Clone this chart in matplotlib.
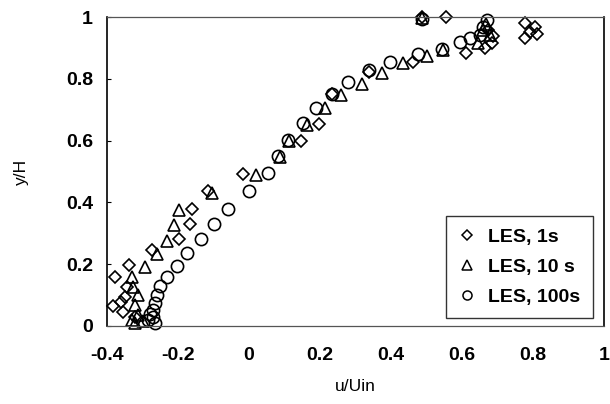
import matplotlib
matplotlib.use("Agg")
import matplotlib.pyplot as plt
from matplotlib.lines import Line2D

plt.rcParams['font.family'] = ['Liberation Sans', 'DejaVu Sans']

# LES, 1s (diamonds)
u_1s = [-0.377, -0.338, -0.344, -0.349, -0.382, -0.360, -0.355, -0.320, -0.274, -0.196,
        -0.166, -0.161, -0.116, -0.016, 0.146, 0.197, 0.233, 0.339, 0.461, 0.486,
        0.554, 0.611, 0.665, 0.685, 0.687, 0.673, 0.777, 0.806, 0.792, 0.777, 0.811]
y_1s = [0.159, 0.197, 0.127, 0.095, 0.065, 0.079, 0.046, 0.030, 0.246, 0.280,
        0.329, 0.378, 0.437, 0.492, 0.600, 0.654, 0.750, 0.823, 0.853, 0.999,
        0.999, 0.883, 0.900, 0.916, 0.939, 0.958, 0.981, 0.968, 0.951, 0.932, 0.945]

# LES, 10 s (triangles)
u_10s = [-0.321, -0.312, -0.321, -0.312, -0.326, -0.330, -0.293, -0.260, -0.230, -0.210,
         -0.197, -0.105, 0.020, 0.088, 0.114, 0.162, 0.215, 0.258, 0.317, 0.376,
         0.435, 0.500, 0.488, 0.547, 0.645, 0.679, 0.659, 0.668, -0.330, -0.300]
y_10s = [0.011, 0.036, 0.068, 0.100, 0.127, 0.160, 0.192, 0.233, 0.275, 0.327,
         0.375, 0.432, 0.489, 0.548, 0.600, 0.650, 0.704, 0.748, 0.783, 0.820,
         0.850, 0.875, 0.997, 0.893, 0.916, 0.942, 0.958, 0.977, 0.020, 0.015]

# LES, 100s (circles)
u_100s = [-0.266, -0.270, -0.270, -0.266, -0.260, -0.250, -0.232, -0.204, -0.175, -0.136,
          -0.100, -0.058, 0.001, 0.054, 0.083, 0.111, 0.153, 0.190, 0.233, 0.280,
          0.339, 0.397, 0.477, 0.543, 0.488, 0.594, 0.623, 0.651, 0.659, 0.670,
          -0.285, -0.280]
y_100s = [0.011, 0.030, 0.052, 0.075, 0.100, 0.129, 0.160, 0.194, 0.237, 0.280,
          0.329, 0.378, 0.437, 0.494, 0.550, 0.602, 0.656, 0.704, 0.750, 0.791,
          0.827, 0.853, 0.879, 0.898, 0.995, 0.919, 0.932, 0.942, 0.968, 0.990,
          0.020, 0.040]

labels = ['LES, 1s', 'LES, 10 s', 'LES, 100s']
x_ticks = [-0.4, -0.2, 0, 0.2, 0.4, 0.6, 0.8, 1]
x_ticklabels = ['-0.4', '-0.2', '0', '0.2', '0.4', '0.6', '0.8', '1']
y_ticks = [0, 0.2, 0.4, 0.6, 0.8, 1]
y_ticklabels = ['0', '0.2', '0.4', '0.6', '0.8', '1']

fig = plt.figure(figsize=(6.10, 4.04), dpi=100)
ax = fig.add_axes([107/610, 1 - 326/404, (604 - 107)/610, (326 - 17)/404])

mk = dict(linestyle='none', markerfacecolor='none', markeredgecolor='black',
          markeredgewidth=1.2, clip_on=False)
ax.plot(u_1s, y_1s, marker='D', markersize=6.5, label=labels[0], **mk)
ax.plot(u_10s, y_10s, marker='^', markersize=8.5, label=labels[1], **mk)
ax.plot(u_100s, y_100s, marker='o', markersize=8.8, label=labels[2], **mk)

ax.set_xlim(-0.4, 1)
ax.set_ylim(0, 1)
ax.set_xticks(x_ticks)
ax.set_xticklabels(x_ticklabels, fontweight='bold', fontsize=14)
ax.set_yticks(y_ticks)
ax.set_yticklabels(y_ticklabels, fontweight='bold', fontsize=14)
ax.tick_params(axis='x', direction='in', length=0, pad=15)
ax.tick_params(axis='y', direction='in', length=3, pad=10)

ax.set_xlabel('u/Uin', fontsize=12.5, labelpad=11)
ax.set_ylabel('y/H', fontsize=12.5, labelpad=27)

for side in ['left', 'right']:
    ax.spines[side].set_linewidth(1.2)
    ax.spines[side].set_color('black')
for side in ['top', 'bottom']:
    ax.spines[side].set_linewidth(0.9)
    ax.spines[side].set_color('#555555')
    ax.spines[side].set_linestyle((0, (3, 1)))

hk = dict(linestyle='none', markerfacecolor='none', markeredgecolor='black', markeredgewidth=1.1)
handles = [
    Line2D([], [], marker='D', markersize=5, **hk),
    Line2D([], [], marker='^', markersize=6.5, **hk),
    Line2D([], [], marker='o', markersize=6.5, **hk),
]
leg = ax.legend(handles, labels, loc='lower right', bbox_to_anchor=(0.978, 0.025),
                prop={'weight': 'bold', 'size': 14}, frameon=True, fancybox=False,
                edgecolor='black', handlelength=0.8, handletextpad=0.7,
                labelspacing=0.62, borderpad=0.65, borderaxespad=0)
leg.get_frame().set_linewidth(1.0)

fig.savefig('out.png', dpi=100)
